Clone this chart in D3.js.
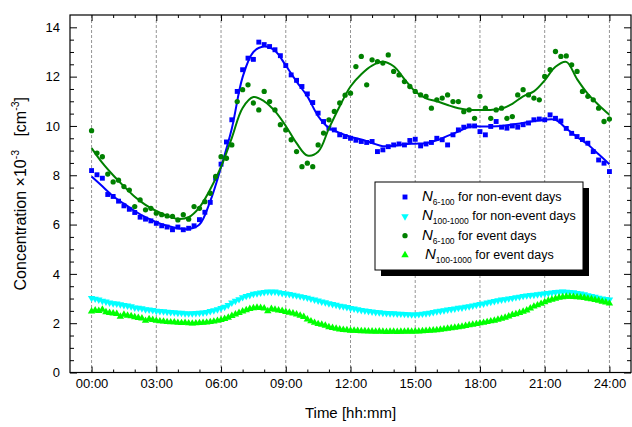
<!DOCTYPE html>
<html>
<head>
<meta charset="utf-8">
<script src="https://cdn.jsdelivr.net/npm/d3@7"></script>
<style>
  body { margin: 0; background: #fff; }
  svg { display: block; font-family: "Liberation Sans", Arial, sans-serif; }
</style>
</head>
<body>
<svg id="chart" width="632" height="427"></svg>
<script>
// Diurnal particle number concentrations (×10^-3 cm^-3)
// N6-100 sampled every 15 min, N100-1000 every 10 min, fitted curves every 30 min.
const stepCoarse = 0.25;   // hours
const stepFine = 1 / 6;    // hours
const stepFit = 0.5;       // hours

const xTickHours = [0, 3, 6, 9, 12, 15, 18, 21, 24];
const xTickLabels = ["00:00", "03:00", "06:00", "09:00", "12:00", "15:00", "18:00", "21:00", "24:00"];
const yTicks = [0, 2, 4, 6, 8, 10, 12, 14];

const n6NonEvent = [
  8.19, 8.02, 7.88, 7.22,  7.14, 6.95, 6.76, 6.62,  6.49, 6.30, 6.22, 6.15,
  6.05, 5.95, 5.90, 5.79,  5.90, 5.79, 5.85, 5.95,  6.20, 6.50, 6.90, 7.88,
  8.45, 9.35, 10.25, 11.40, 12.28, 12.75, 12.70, 13.40, 13.30, 13.22, 13.09, 12.85,
  12.45, 12.07, 11.85, 11.60, 11.30, 10.95, 10.52, 10.18, 9.91, 9.84, 9.64, 9.57,
  9.50, 9.42, 9.37, 9.33,  9.37, 8.96, 9.03, 9.16,  9.23, 9.27, 9.23, 9.41,
  9.46, 9.19, 9.27, 9.33,  9.50, 9.44, 9.23, 9.64,  9.84, 9.95, 10.00, 10.00,
  9.77, 9.64, 9.98, 10.18, 9.95, 9.91, 10.00, 9.95, 10.05, 10.12, 10.25, 10.28,
  10.25, 10.45, 10.31, 10.20, 9.90, 9.70, 9.57, 9.45, 9.30, 8.96, 8.62, 8.49,
  8.15
];

const n6Event = [
  9.81, 8.90, 8.75, 8.05,  7.73, 7.80, 7.54, 7.40,  6.73, 7.00, 6.60, 6.66,
  6.46, 6.40, 6.35, 6.33,  6.19, 6.40, 6.22, 6.73,  6.66, 6.93, 7.27, 7.95,
  8.75, 8.69, 9.23, 10.99, 11.47, 11.67, 10.93, 10.65, 11.40, 10.99, 10.65, 10.05,
  9.84, 9.44, 8.96, 8.35,  8.49, 8.35, 9.23, 9.71,  10.25, 10.59, 10.93, 11.25,
  11.33, 12.41, 12.82, 11.67, 12.68, 12.61, 12.55, 12.88, 12.21, 12.07, 11.80, 11.60,
  11.40, 11.26, 11.20, 10.72, 11.06, 11.13, 11.26, 10.99, 10.99, 10.58, 10.65, 10.31,
  11.20, 10.72, 10.31, 10.65, 10.72, 10.31, 10.38, 11.26, 11.47, 11.26, 11.13, 11.06,
  12.01, 12.28, 13.02, 12.82, 12.84, 12.48, 12.21, 11.40, 11.20, 11.06, 10.72, 10.18,
  10.28
];

const n100NonEvent = [
  3.02, 2.99, 2.95, 2.90, 2.87, 2.83,
  2.80, 2.79, 2.76, 2.73, 2.71, 2.68,
  2.63, 2.62, 2.60, 2.56, 2.55, 2.53,
  2.50, 2.49, 2.48, 2.46, 2.45, 2.44,
  2.42, 2.42, 2.40, 2.39, 2.40, 2.41,
  2.42, 2.43, 2.45, 2.49, 2.52, 2.56,
  2.61, 2.66, 2.73, 2.83, 2.90, 2.97,
  3.05, 3.10, 3.14, 3.19, 3.21, 3.24,
  3.26, 3.28, 3.27, 3.28, 3.25, 3.22,
  3.20, 3.18, 3.15, 3.12, 3.09, 3.06,
  3.03, 2.99, 2.95, 2.91, 2.87, 2.84,
  2.80, 2.77, 2.74, 2.70, 2.68, 2.65,
  2.61, 2.59, 2.56, 2.53, 2.51, 2.49,
  2.47, 2.45, 2.44, 2.42, 2.41, 2.40,
  2.40, 2.38, 2.38, 2.37, 2.36, 2.35,
  2.35, 2.36, 2.38, 2.40, 2.42, 2.45,
  2.48, 2.50, 2.52, 2.55, 2.57, 2.59,
  2.62, 2.63, 2.66, 2.68, 2.71, 2.74,
  2.77, 2.79, 2.83, 2.86, 2.89, 2.92,
  2.95, 2.97, 3.00, 3.02, 3.05, 3.07,
  3.10, 3.12, 3.14, 3.15, 3.17, 3.19,
  3.20, 3.22, 3.24, 3.26, 3.27, 3.28,
  3.27, 3.26, 3.25, 3.22, 3.20, 3.17,
  3.13, 3.10, 3.07, 3.03, 3.00, 2.98,
  2.95
];

const n100Event = [
  2.48, 2.52, 2.50, 2.55, 2.45, 2.42,
  2.40, 2.38, 2.27, 2.35, 2.31, 2.29,
  2.25, 2.22, 2.20, 2.10, 2.17, 2.14,
  2.10, 2.08, 2.07, 2.05, 2.04, 2.04,
  2.02, 2.01, 2.02, 2.00, 1.99, 2.00,
  2.01, 2.02, 2.03, 2.05, 2.07, 2.10,
  2.14, 2.18, 2.23, 2.30, 2.36, 2.42,
  2.48, 2.53, 2.58, 2.61, 2.63, 2.62,
  2.60, 2.49, 2.58, 2.55, 2.52, 2.50,
  2.46, 2.43, 2.40, 2.36, 2.31, 2.26,
  2.16, 2.08, 2.02, 1.97, 1.94, 1.90,
  1.84, 1.81, 1.78, 1.75, 1.73, 1.72,
  1.70, 1.70, 1.69, 1.68, 1.68, 1.67,
  1.67, 1.66, 1.67, 1.66, 1.65, 1.66,
  1.66, 1.65, 1.66, 1.66, 1.67, 1.66,
  1.67, 1.67, 1.68, 1.69, 1.70, 1.71,
  1.72, 1.74, 1.76, 1.78, 1.80, 1.82,
  1.84, 1.86, 1.89, 1.92, 1.94, 1.97,
  2.00, 2.02, 2.05, 2.08, 2.11, 2.15,
  2.19, 2.23, 2.28, 2.34, 2.37, 2.42,
  2.47, 2.52, 2.60, 2.68, 2.73, 2.79,
  2.86, 2.92, 2.96, 3.00, 3.04, 3.06,
  3.08, 3.08, 3.07, 3.06, 3.05, 3.03,
  3.00, 2.98, 2.95, 2.92, 2.88, 2.85,
  2.80
];

const fitN6NonEvent = [
  7.95, 7.55, 7.15, 6.85, 6.55, 6.30, 6.10, 5.95, 5.85, 5.82, 6.00, 6.95,
  8.33, 9.90, 11.98, 13.00, 13.22, 13.05, 12.45, 11.80, 11.20, 10.40, 9.92, 9.72,
  9.56, 9.45, 9.31, 9.18, 9.20, 9.26, 9.28, 9.30, 9.42, 9.60, 9.77, 9.97,
  9.98, 9.98, 10.00, 10.06, 10.12, 10.20, 10.25, 10.25, 9.90, 9.55, 9.25, 8.85,
  8.45
];

const fitN6Event = [
  9.10, 8.50, 8.00, 7.55, 7.13, 6.80, 6.55, 6.35, 6.23, 6.30, 6.70, 7.43,
  8.34, 9.52, 10.73, 11.17, 11.00, 10.60, 10.00, 9.30, 8.80, 8.95, 9.90, 10.80,
  11.60, 12.10, 12.45, 12.60, 12.42, 11.90, 11.40, 11.12, 11.00, 10.85, 10.72, 10.65,
  10.65, 10.65, 10.70, 10.90, 11.20, 11.40, 11.85, 12.40, 12.60, 11.90, 11.30, 10.85,
  10.45
];

const legendItems = [
  { sub: "6-100", text: " for non-event days", color: "#0000ff", shape: "square" },
  { sub: "100-1000", text: " for non-event days", color: "#00ffff", shape: "down" },
  { sub: "6-100", text: " for event days", color: "#008000", shape: "circle" },
  { sub: "100-1000", text: " for event days", color: "#00ff00", shape: "up" }
];

const svg = d3.select("#chart");
const plot = { left: 70, right: 631, top: 15, bottom: 372.5 };

const x = d3.scaleLinear().domain([-1, 25]).range([plot.left, plot.right]);
const y = d3.scaleLinear().domain([0, 14.5]).range([plot.bottom, plot.top]);

const toPoints = (vals, step) => vals.map((v, i) => ({ t: i * step, v }));

// dashed verticals at the 3-hour marks
svg.append("g").selectAll("line").data(xTickHours).join("line")
  .attr("x1", d => x(d)).attr("x2", d => x(d))
  .attr("y1", plot.top).attr("y2", plot.bottom)
  .attr("stroke", "#7a7a7a").attr("stroke-width", 0.8)
  .attr("stroke-dasharray", "3,2");

// marker shapes
const sym = {
  square: d3.symbol().type(d3.symbolSquare).size(24),
  circle: d3.symbol().type(d3.symbolCircle).size(22),
  up: d3.symbol().type(d3.symbolTriangle).size(24),
  down: d3.symbol().type(d3.symbolTriangle).size(24)
};
function drawMarkers(data, step, shape, color) {
  svg.append("g").selectAll("path").data(toPoints(data, step)).join("path")
    .attr("d", sym[shape]())
    .attr("transform", d => `translate(${x(d.t)},${y(d.v)})` + (shape === "down" ? " rotate(180)" : ""))
    .attr("fill", color);
}
function drawFit(data, step, color) {
  const line = d3.line().x(d => x(d.t)).y(d => y(d.v)).curve(d3.curveCatmullRom.alpha(0.5));
  svg.append("path").datum(toPoints(data, step))
    .attr("d", line).attr("fill", "none")
    .attr("stroke", color).attr("stroke-width", 2);
}

drawMarkers(n100NonEvent, stepFine, "down", "#00ffff");
drawMarkers(n100Event, stepFine, "up", "#00ff00");
drawMarkers(n6NonEvent, stepCoarse, "square", "#0000ff");
drawFit(fitN6NonEvent, stepFit, "#0000ff");
drawMarkers(n6Event, stepCoarse, "circle", "#008000");
drawFit(fitN6Event, stepFit, "#008000");

// axes with inward ticks on all four sides
const xMinor = d3.range(0, 25, 1).filter(h => h % 3 !== 0);
const yMinor = d3.range(0, 14.5, 0.5).filter(v => v % 2 !== 0);
const fmtX = d => xTickLabels[xTickHours.indexOf(d)];

function addAxis(axis, tx, ty) {
  const g = svg.append("g").attr("transform", `translate(${tx},${ty})`).call(axis);
  g.select(".domain").remove();
  g.selectAll("line").attr("stroke", "#000").attr("stroke-width", 1);
  g.selectAll("text").attr("fill", "#000").style("font-size", "13px")
    .style("font-family", '"Liberation Sans", Arial, sans-serif');
  return g;
}
addAxis(d3.axisBottom(x).tickValues(xTickHours).tickFormat(fmtX).tickSize(-6).tickSizeOuter(0).tickPadding(6), 0, plot.bottom);
addAxis(d3.axisBottom(x).tickValues(xMinor).tickFormat("").tickSize(-3).tickSizeOuter(0), 0, plot.bottom);
addAxis(d3.axisTop(x).tickValues(xTickHours).tickFormat("").tickSize(-6).tickSizeOuter(0), 0, plot.top);
addAxis(d3.axisTop(x).tickValues(xMinor).tickFormat("").tickSize(-3).tickSizeOuter(0), 0, plot.top);
addAxis(d3.axisLeft(y).tickValues(yTicks).tickSize(-7).tickSizeOuter(0).tickPadding(10), plot.left, 0);
addAxis(d3.axisLeft(y).tickValues(yMinor).tickFormat("").tickSize(-4).tickSizeOuter(0), plot.left, 0);
addAxis(d3.axisRight(y).tickValues(yTicks).tickFormat("").tickSize(-7).tickSizeOuter(0), plot.right, 0);
addAxis(d3.axisRight(y).tickValues(yMinor).tickFormat("").tickSize(-4).tickSizeOuter(0), plot.right, 0);

// frame
svg.append("rect")
  .attr("x", plot.left).attr("y", plot.top)
  .attr("width", plot.right - plot.left).attr("height", plot.bottom - plot.top)
  .attr("fill", "none").attr("stroke", "#000").attr("stroke-width", 1.2);

// axis titles
svg.append("text")
  .attr("x", (plot.left + plot.right) / 2).attr("y", 418)
  .attr("text-anchor", "middle").style("font-size", "15px")
  .text("Time [hh:mm]");

const yTitle = svg.append("text")
  .attr("transform", `translate(26,${(plot.top + plot.bottom) / 2}) rotate(-90)`)
  .attr("text-anchor", "middle").style("font-size", "16px");
yTitle.append("tspan").text("Concentration \u00d710");
yTitle.append("tspan").attr("dy", -7).style("font-size", "10.5px").text("-3");
yTitle.append("tspan").attr("dy", 7).text("\u00a0\u00a0\u00a0[cm");
yTitle.append("tspan").attr("dy", -7).style("font-size", "10.5px").text("-3");
yTitle.append("tspan").attr("dy", 7).text("]");

// legend with drop shadow
const lg = { x: 375, y: 182, w: 208, h: 88 };
svg.append("rect").attr("x", lg.x + 6).attr("y", lg.y + 6)
  .attr("width", lg.w).attr("height", lg.h).attr("fill", "#000");
svg.append("rect").attr("x", lg.x).attr("y", lg.y)
  .attr("width", lg.w).attr("height", lg.h)
  .attr("fill", "#fff").attr("stroke", "#000").attr("stroke-width", 1);

const rowY = d3.scalePoint().domain(d3.range(legendItems.length)).range([197, 255]);
legendItems.forEach((it, i) => {
  const cy = rowY(i);
  svg.append("path").attr("d", sym[it.shape]())
    .attr("transform", `translate(405,${cy})` + (it.shape === "down" ? " rotate(180)" : ""))
    .attr("fill", it.color);
  const t = svg.append("text").attr("x", i === 3 ? 425 : 422).attr("y", cy + 4);
  t.append("tspan").style("font-style", "italic").style("font-size", "15px").text("N");
  t.append("tspan").attr("dy", 4).style("font-size", "8.5px").text(it.sub);
  t.append("tspan").attr("dy", -4).style("font-size", "12.5px").text(it.text);
});
</script>
</body>
</html>
